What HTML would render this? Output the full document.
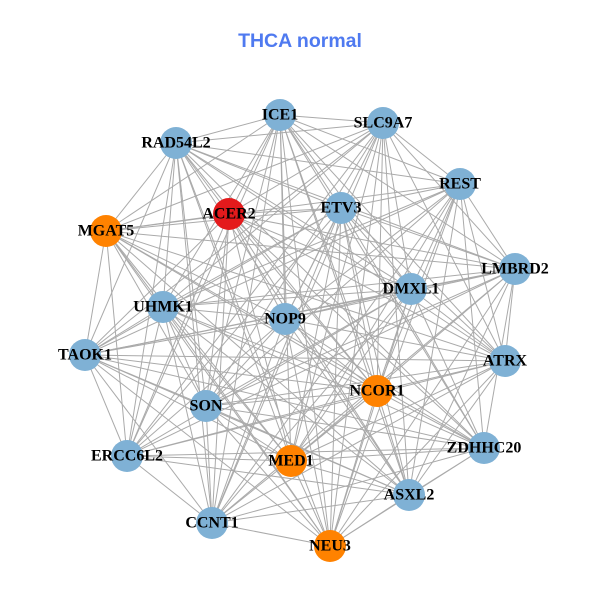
<!DOCTYPE html>
<html><head><meta charset="utf-8"><style>
html,body{margin:0;padding:0;background:#fff;}
svg text{font-family:"Liberation Serif",serif;font-weight:bold;font-size:16px;text-anchor:middle;dominant-baseline:central;fill:#000;}
</style></head><body>
<svg id="s" width="600" height="600" viewBox="0 0 600 600" xmlns="http://www.w3.org/2000/svg">
<rect width="600" height="600" fill="#fff"/>
<text x="300" y="41" style="font-family:'Liberation Sans',sans-serif;font-size:19.5px;fill:#4f7af0;">THCA normal</text>
<g id="edges" stroke="#aaaaaa" stroke-width="1"></g>
<g id="nodes"></g>
<g>
<text x="280" y="115">ICE1</text>
<text x="383" y="123">SLC9A7</text>
<text x="176" y="143">RAD54L2</text>
<text x="460" y="184">REST</text>
<text x="229" y="214">ACER2</text>
<text x="341" y="208">ETV3</text>
<text x="106" y="231">MGAT5</text>
<text x="515" y="269">LMBRD2</text>
<text x="411" y="289">DMXL1</text>
<text x="163" y="307">UHMK1</text>
<text x="285" y="319">NOP9</text>
<text x="85" y="355">TAOK1</text>
<text x="505" y="361">ATRX</text>
<text x="377" y="391">NCOR1</text>
<text x="206" y="406">SON</text>
<text x="127" y="456">ERCC6L2</text>
<text x="484" y="448">ZDHHC20</text>
<text x="291" y="461">MED1</text>
<text x="409" y="495">ASXL2</text>
<text x="212" y="523">CCNT1</text>
<text x="330" y="546">NEU3</text>
</g>
</svg>
<script>
var N=[[280,115,'b'],[383,123,'b'],[176,143,'b'],[460,184,'b'],[229,214,'r'],[341,208,'b'],[106,231,'o'],[515,269,'b'],[411,289,'b'],[163,307,'b'],[285,319,'b'],[85,355,'b'],[505,361,'b'],[377,391,'o'],[206,406,'b'],[127,456,'b'],[484,448,'b'],[291,461,'o'],[409,495,'b'],[212,523,'b'],[330,546,'o']];
var C={b:'#7fb1d5',o:'#ff8200',r:'#e41a1c'};
var ns='http://www.w3.org/2000/svg',E=document.getElementById('edges'),G=document.getElementById('nodes');
for(var i=0;i<N.length;i++)for(var j=i+1;j<N.length;j++){
 if((i*7+j*3)%11==0)continue;
 var l=document.createElementNS(ns,'line');
 l.setAttribute('x1',N[i][0]);l.setAttribute('y1',N[i][1]);l.setAttribute('x2',N[j][0]);l.setAttribute('y2',N[j][1]);E.appendChild(l);}
N.forEach(function(n){var c=document.createElementNS(ns,'circle');c.setAttribute('cx',n[0]);c.setAttribute('cy',n[1]);c.setAttribute('r',16);c.setAttribute('fill',C[n[2]]);G.appendChild(c);});
</script>
</body></html>
